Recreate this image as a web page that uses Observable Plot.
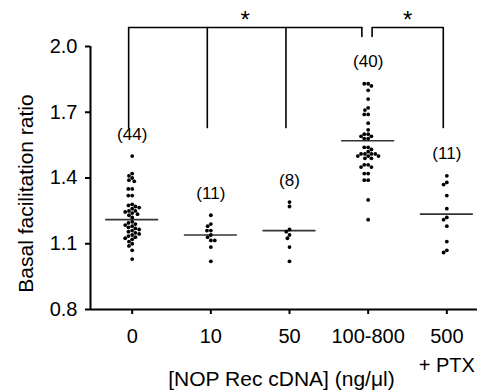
<!DOCTYPE html>
<html><head><meta charset="utf-8">
<script src="https://cdn.jsdelivr.net/npm/d3@7"></script>
<script src="https://cdn.jsdelivr.net/npm/@observablehq/plot@0.6"></script>
<style>body{margin:0;background:#fff;} svg{display:block}</style>
</head><body><div id="chart"></div>
<script>
// ---- data ----
const groups = ["0", "10", "50", "100-800", "500 + PTX"];
const tickLabels = ["0", "10", "50", "100-800", "500\n+ PTX"];
const g0 = [1.50, 1.42, 1.41, 1.40, 1.39, 1.385, 1.35, 1.35, 1.32, 1.32,
  1.28, 1.275, 1.27, 1.265, 1.26, 1.25, 1.25, 1.245, 1.24, 1.235, 1.23, 1.22,
  1.20, 1.195, 1.19, 1.185, 1.18, 1.175, 1.17, 1.165, 1.16, 1.155, 1.15, 1.145,
  1.14, 1.135, 1.13, 1.125, 1.12, 1.11, 1.10, 1.09, 1.07, 1.03];
const g10 = [1.23, 1.19, 1.18, 1.16, 1.16, 1.14, 1.13, 1.115, 1.115, 1.085, 1.02];
const g50 = [1.29, 1.27, 1.165, 1.155, 1.14, 1.125, 1.085, 1.02];
const g100 = [1.83, 1.83, 1.82, 1.80, 1.76, 1.72, 1.71, 1.69, 1.69, 1.65, 1.62,
  1.60, 1.60, 1.59, 1.59, 1.58, 1.58, 1.54, 1.54, 1.53, 1.52, 1.51, 1.51, 1.51,
  1.51, 1.50, 1.50, 1.50, 1.49, 1.49, 1.46, 1.46, 1.45, 1.45, 1.42, 1.42, 1.39,
  1.39, 1.30, 1.21];
const gPTX = [1.41, 1.38, 1.37, 1.32, 1.26, 1.22, 1.21, 1.18, 1.11, 1.07, 1.06];
const means = [1.21, 1.14, 1.16, 1.57, 1.235];
const yTicks = [0.8, 1.1, 1.4, 1.7, 2.0];
const yLabel = "Basal facilitation ratio";
const xLabel = "[NOP Rec cDNA] (ng/\u03bcl)";
// significance brackets: groups joined to a target group
const brackets = [{from: [0, 1, 2], to: 3, side: "left", mark: "*"},
                  {from: [4], to: 3, side: "right", mark: "*"}];
const bracketLevel = 2.087, legEnd = 1.63, shortEnd = 2.046;

// ---- layout ----
const W = 477, H = 391, mL = 90, mR = 0, mT = 46, mB = 82;
const xDomain = [-0.53, 4.39], yDomain = [0.8, 2.0];
const pxPerX = (W - mL - mR) / (xDomain[1] - xDomain[0]);
const ypx = d3.scaleLinear(yDomain, [H - mB, mT]);

const series = [g0, g10, g50, g100, gPTX];

// beeswarm offsets computed from the values
const D = 3.9;
function swarm(vals, gi) {
  const placed = [];
  const sorted = vals.slice().sort((a, b) => b - a);
  return sorted.map(v => {
    const y = ypx(v);
    const cands = [0];
    for (const q of placed) {
      const dy = Math.abs(q.y - y);
      if (dy < D) { const dx = Math.sqrt(D * D - dy * dy); cands.push(q.x + dx, q.x - dx); }
    }
    cands.sort((a, b) => Math.abs(a) - Math.abs(b) || a - b);
    let best = 0;
    for (const c of cands) {
      if (placed.every(q => (q.x - c) ** 2 + (q.y - y) ** 2 >= D * D - 1e-6)) { best = c; break; }
    }
    placed.push({x: best, y});
    return {g: groups[gi], v, x: gi + best / pxPerX};
  });
}
const dots = series.flatMap((s, i) => swarm(s, i));
const meanData = means.map((m, i) => ({i, m}));
const nData = series.map((s, i) => ({i, n: s.length, max: d3.max(s)}));

const s = 0.045, gapL = 0.08, gapR = 0.05;
const paths = [];
const stars = [];
brackets.forEach((b, k) => {
  if (b.side === "left") {
    const xs = b.from.map(i => i - s);
    const xEnd = b.to - gapL;
    b.from.forEach((i, j) => {
      paths.push({id: `${k}-leg${j}`, x: i - s, y: legEnd});
      paths.push({id: `${k}-leg${j}`, x: i - s, y: bracketLevel});
    });
    paths.push({id: `${k}-top`, x: xs[0], y: bracketLevel});
    paths.push({id: `${k}-top`, x: xEnd, y: bracketLevel});
    paths.push({id: `${k}-short`, x: xEnd, y: bracketLevel});
    paths.push({id: `${k}-short`, x: xEnd, y: shortEnd});
    stars.push({x: (xs[0] + xEnd) / 2, mark: b.mark});
  } else {
    const xStart = b.to + gapR;
    const xo = b.from[0] - s;
    paths.push({id: `${k}-a`, x: xStart, y: shortEnd});
    paths.push({id: `${k}-a`, x: xStart, y: bracketLevel});
    paths.push({id: `${k}-a`, x: xo, y: bracketLevel});
    paths.push({id: `${k}-a`, x: xo, y: legEnd});
    stars.push({x: (xStart + xo) / 2, mark: b.mark});
  }
});

const chart = Plot.plot({
  width: W, height: H,
  marginLeft: mL, marginRight: mR, marginTop: mT, marginBottom: mB,
  x: {domain: xDomain},
  y: {domain: yDomain},
  style: {fontFamily: "'Liberation Sans', Arial, Helvetica, sans-serif", fontSize: "20px", color: "#000", background: "#fff"},
  marks: [
    Plot.axisY({ticks: yTicks, tickFormat: d3.format(".1f"), tickSize: 5, tickPadding: 8, fontSize: 20, strokeWidth: 2, label: null}),
    Plot.axisX({ticks: [0, 1, 2, 3, 4], tickFormat: i => tickLabels[i], tickSize: 5, tickPadding: 8, fontSize: 20, lineHeight: 1.45, strokeWidth: 2, label: null}),
    Plot.ruleY([yDomain[0]], {stroke: "#000", strokeWidth: 2}),
    Plot.ruleX([xDomain[0]], {y1: yDomain[0], y2: yDomain[1], stroke: "#000", strokeWidth: 2}),
    Plot.ruleY(meanData, {x1: d => d.i - 0.337, x2: d => d.i + 0.337, y: "m", stroke: "#333", strokeWidth: 1.6}),
    Plot.dot(dots, {x: "x", y: "v", r: 1.9, fill: "#000", stroke: null}),
    Plot.text(nData, {x: "i", y: "max", text: d => `(${d.n})`, dy: -22, fontSize: 17}),
    Plot.line(paths, {x: "x", y: "y", z: "id", stroke: "#000", strokeWidth: 1.6}),
    Plot.text(stars, {x: "x", y: () => bracketLevel, text: "mark", fontSize: 24, dy: -7}),
    Plot.text([yLabel], {frameAnchor: "left", textAnchor: "middle", lineAnchor: "middle", rotate: -90, dx: -64, dy: 15.5, fontSize: 21}),
    Plot.text([xLabel], {frameAnchor: "bottom", textAnchor: "middle", lineAnchor: "middle", dx: -2.5, dy: 70, fontSize: 21})
  ]
});
document.getElementById("chart").appendChild(chart);
</script>
</body></html>
